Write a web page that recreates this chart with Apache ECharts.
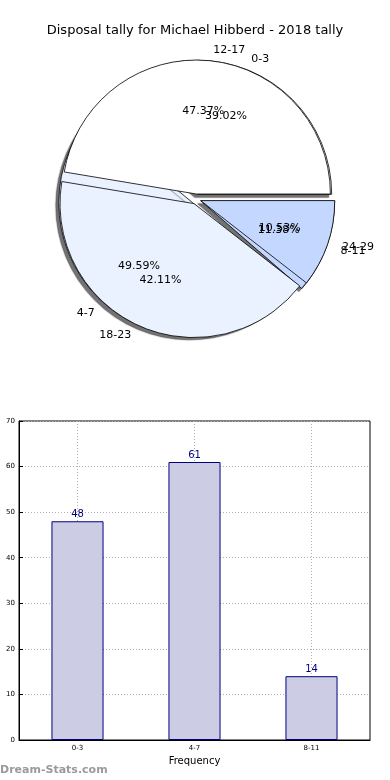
<!DOCTYPE html>
<html>
<head>
<meta charset="utf-8">
<script src="https://cdn.jsdelivr.net/npm/echarts@6/dist/echarts.min.js"></script>
<style>
  html, body { margin: 0; padding: 0; background: #fff; }
  #chart { width: 390px; height: 780px; }
</style>
</head>
<body>
<div id="chart"></div>
<script>
const titleText = 'Disposal tally for Michael Hibberd - 2018 tally';
const pieCatsA = ['0-3', '4-7', '8-11'];
const pieValsA = [48, 61, 14];
const pieCatsB = ['12-17', '18-23', '24-29'];
const pieValsB = [9, 8, 2];
const sliceColors = ['#ffffff', '#eaf1ff', '#c4d8ff'];
const barCats = ['0-3', '4-7', '8-11'];
const barVals = [48, 61, 14];

const FONT = 'DejaVu Sans';
const CENTER = [196, 199];
const R = 134;
const OFFSET = 5;

function pieData(cats, vals) {
  return cats.map((c, i) => ({ name: c, value: vals[i], selected: true,
    itemStyle: { color: sliceColors[i] } }));
}
function pctFormatter(vals) {
  const total = vals.reduce((a, b) => a + b, 0);
  return p => (p.value / total * 100).toFixed(2) + '%';
}
function shapePie(cats, vals, withShadow) {
  const shadow = withShadow
    ? { shadowColor: 'rgba(0,0,0,0.55)', shadowBlur: 1, shadowOffsetX: -3, shadowOffsetY: 3 }
    : {};
  return {
    type: 'pie', center: CENTER, radius: [0, R],
    startAngle: 0, clockwise: false,
    selectedMode: 'multiple', selectedOffset: OFFSET,
    avoidLabelOverlap: false, silent: true, animation: false,
    labelLayout: { hideOverlap: false, moveOverlap: null },
    itemStyle: Object.assign({ borderColor: '#000', borderWidth: 0.8 }, shadow),
    select: { itemStyle: { borderColor: '#000', borderWidth: 0.8 } },
    emphasis: { disabled: true },
    label: { show: true, position: 'outside', alignTo: 'none',
      color: '#000', fontSize: 11, fontFamily: FONT, formatter: '{b}' },
    labelLine: { show: false, length: 10, length2: 0 },
    data: pieData(cats, vals)
  };
}
function pctPie(cats, vals) {
  return {
    type: 'pie', center: CENTER, radius: [R * 0.2, R],
    startAngle: 0, clockwise: false,
    selectedMode: 'multiple', selectedOffset: OFFSET,
    avoidLabelOverlap: false, silent: true, animation: false,
    labelLayout: { hideOverlap: false, moveOverlap: null },
    itemStyle: { color: 'rgba(0,0,0,0)', borderWidth: 0 },
    select: { itemStyle: { color: 'rgba(0,0,0,0)', borderWidth: 0 } },
    emphasis: { disabled: true },
    label: { show: true, position: 'inside', color: '#000', fontSize: 11,
      fontFamily: FONT, formatter: pctFormatter(vals) },
    labelLine: { show: false },
    data: cats.map((c, i) => ({ name: c, value: vals[i], selected: true }))
  };
}

const chart = echarts.init(document.getElementById('chart'), null, { renderer: 'canvas' });
chart.setOption({
  animation: false,
  backgroundColor: '#fff',
  title: { text: titleText, left: 'center', top: 19,
    textStyle: { fontFamily: FONT, fontSize: 13, fontWeight: 'normal', color: '#000' } },
  grid: { left: 19, right: 20, top: 421, bottom: 40, show: true,
    borderColor: '#000', borderWidth: 1, backgroundColor: 'transparent' },
  xAxis: {
    type: 'category', data: barCats,
    name: 'Frequency', nameLocation: 'middle', nameGap: 16,
    nameTextStyle: { fontFamily: FONT, fontSize: 10, color: '#000' },
    axisLine: { lineStyle: { color: '#000' } },
    axisTick: { inside: true, length: 4, alignWithLabel: true, lineStyle: { color: '#000' } },
    axisLabel: { fontFamily: FONT, fontSize: 7, color: '#000', margin: 5 },
    splitLine: { show: true, alignWithLabel: true, lineStyle: { color: '#b0b0b0', type: [1, 2] } }
  },
  yAxis: {
    type: 'value', min: 0, max: 70, interval: 10,
    axisLine: { show: true, lineStyle: { color: '#000' } },
    axisTick: { show: true, inside: true, length: 4, lineStyle: { color: '#000' } },
    axisLabel: { fontFamily: FONT, fontSize: 7, color: '#000', margin: 4 },
    splitLine: { show: true, lineStyle: { color: '#b0b0b0', type: [1, 2] } }
  },
  graphic: [{
    type: 'text', left: 0, top: 765,
    style: { text: 'Dream-Stats.com', fill: '#9a9a9a', fontFamily: FONT,
      fontSize: 11, fontWeight: 'bold' }
  }],
  series: [
    shapePie(pieCatsA, pieValsA, true),
    shapePie(pieCatsB, pieValsB, false),
    pctPie(pieCatsA, pieValsA),
    pctPie(pieCatsB, pieValsB),
    {
      type: 'bar', data: barVals, barWidth: '44.5%',
      itemStyle: { color: '#cccce4', borderColor: '#000080', borderWidth: 1 },
      label: { show: true, position: 'top', distance: 2, color: '#000080',
        fontFamily: FONT, fontSize: 10 },
      z: 1
    }
  ]
});
</script>
</body>
</html>
